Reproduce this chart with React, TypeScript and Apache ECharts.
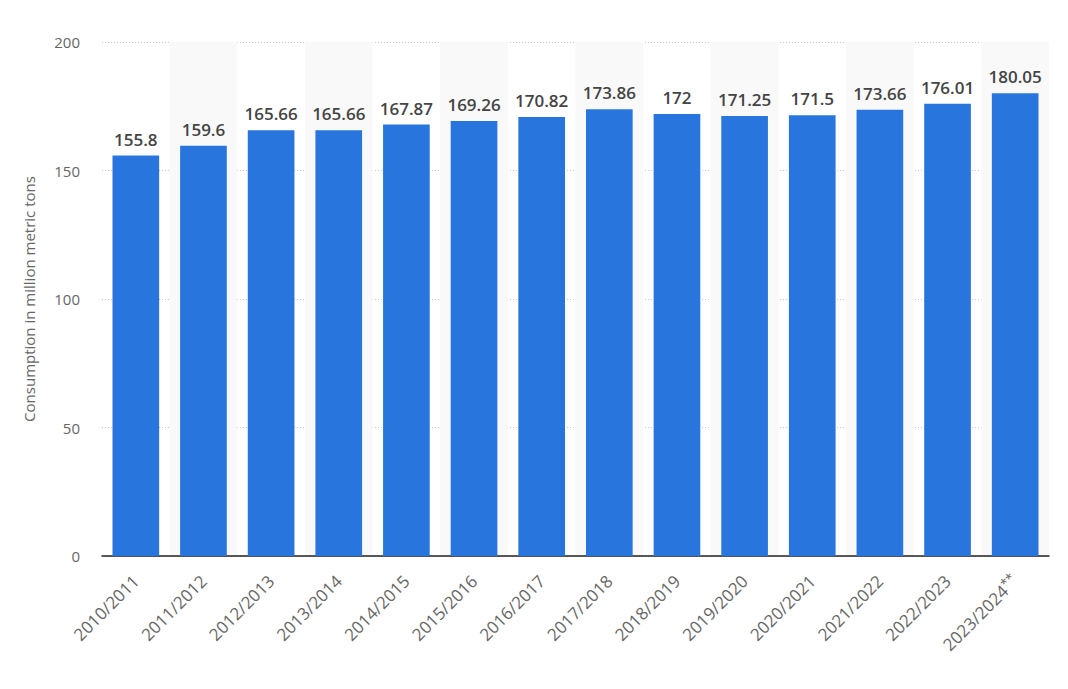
import React, { useEffect, useRef } from "react";
import * as echarts from "echarts";

const categories = [
  "2010/2011", "2011/2012", "2012/2013", "2013/2014", "2014/2015", "2015/2016", "2016/2017",
  "2017/2018", "2018/2019", "2019/2020", "2020/2021", "2021/2022", "2022/2023", "2023/2024**",
];
const consumption = [
  155.8, 159.6, 165.66, 165.66, 167.87, 169.26, 170.82, 173.86, 172, 171.25, 171.5, 173.66, 176.01, 180.05,
];
const yTicks = { min: 0, max: 200, interval: 50 };
const yAxisTitle = "Consumption in million metric tons";

export default function App() {
  const ref = useRef<HTMLDivElement>(null);
  useEffect(() => {
    if (!ref.current) return;
    const chart = echarts.init(ref.current, undefined, { renderer: "svg" });
    const font = "'Open Sans', 'Noto Sans', sans-serif";
    chart.setOption({
      animation: false,
      grid: { left: 102, right: 19, top: 42, bottom: 133, containLabel: false },
      xAxis: {
        type: "category",
        data: categories,
        axisLine: { show: true, lineStyle: { color: "#222", width: 1.5 } },
        axisTick: { show: false },
        axisLabel: {
          rotate: 45,
          color: "#666",
          fontSize: 17,
          fontFamily: font,
          margin: 22,
          interval: 0,
          formatter: (v: string) => {
            const m = v.match(/^(.*?)(\*+)$/);
            return m ? `{n|${m[1]}}{sup|${m[2]}}` : `{n|${v}}`;
          },
          rich: {
            n: { color: "#666", fontSize: 17, fontFamily: font },
            sup: { color: "#666", fontSize: 13, fontFamily: font, padding: [0, 0, 8, 0] },
          },
        },
        splitArea: {
          show: true,
          areaStyle: { color: ["rgba(255,255,255,0)", "#f9f9f9"] },
        },
        splitLine: { show: false },
      },
      yAxis: {
        type: "value",
        min: yTicks.min,
        max: yTicks.max,
        interval: yTicks.interval,
        name: yAxisTitle,
        nameLocation: "middle",
        nameGap: 66,
        nameTextStyle: { color: "#666", fontSize: 15, fontFamily: font },
        axisLine: { show: false },
        axisTick: { show: false },
        axisLabel: { color: "#666", fontSize: 15, fontFamily: font, margin: 22 },
        splitLine: { show: true, lineStyle: { color: "#c8c8c8", type: [1, 2], width: 1 } },
      },
      series: [
        {
          type: "bar",
          data: consumption,
          barWidth: "69%",
          itemStyle: { color: "#2876dd" },
          label: {
            show: true,
            position: "top",
            distance: 8,
            color: "#444",
            fontSize: 17,
            fontWeight: 600,
            fontFamily: font,
          },
        },
      ],
    });
    return () => chart.dispose();
  }, []);
  return <div ref={ref} style={{ width: 1068, height: 689, position: "absolute", left: 0, top: 0 }} />;
}
